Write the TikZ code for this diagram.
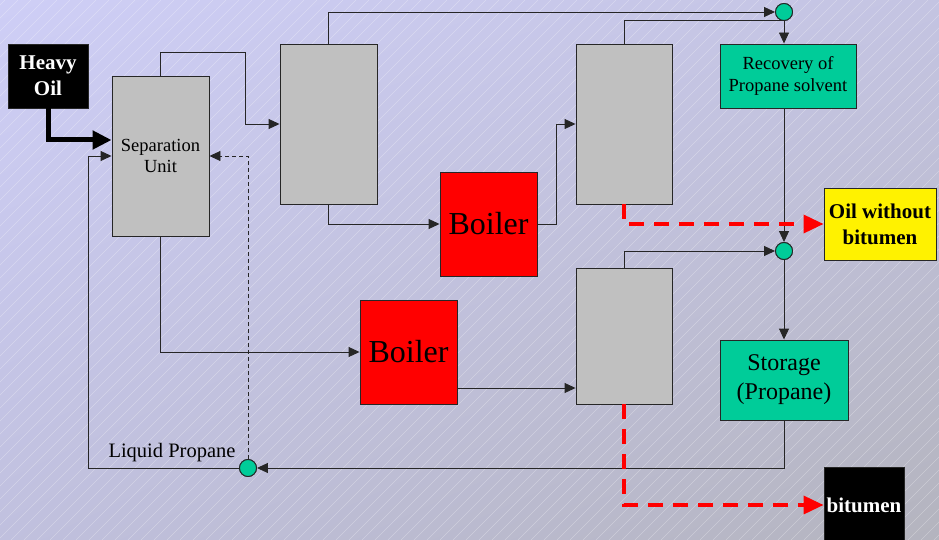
\documentclass[tikz,border=0pt]{standalone}
\usepackage{fontspec}
\setmainfont{Liberation Serif}
\usetikzlibrary{arrows.meta,calc,shadings}
\definecolor{tealbox}{RGB}{0,204,153}
\definecolor{graybox}{RGB}{192,192,192}
\definecolor{bgtl}{RGB}{206,206,246}
\definecolor{bgtr}{RGB}{196,196,226}
\definecolor{bgbl}{RGB}{192,192,222}
\definecolor{bgbr}{RGB}{180,180,190}
\begin{document}
\begin{tikzpicture}[x=1pt,y=-1pt,
  blk/.style={draw=black!85,line width=0.9pt,rectangle,inner sep=0pt,align=center},
  vessel/.style={blk,fill=graybox,minimum width=97pt,minimum height=160pt},
  boilerbox/.style={blk,fill=red,minimum width=97pt,minimum height=104pt,font=\fontsize{32}{36}\selectfont},
  junction/.style={circle,draw=black!85,line width=0.9pt,fill=tealbox,minimum size=17pt,inner sep=0pt},
  arr/.style={draw=black!85,line width=0.9pt,-{Triangle[length=11pt,width=10pt]}},
  plain/.style={draw=black!85,line width=0.9pt},
  thickarr/.style={draw=black,line width=5pt,-{Triangle[length=19pt,width=18pt]}},
  dasharr/.style={draw=black!85,line width=0.9pt,dash pattern=on 4pt off 3pt,-{Triangle[length=11pt,width=10pt]}},
  redarr/.style={draw=red,line width=3.5pt,dash pattern=on 15pt off 10pt,-{Triangle[length=20pt,width=18pt]}},
  boldlabel/.style={font=\bfseries\fontsize{21}{26}\selectfont}
]
\useasboundingbox (0,0) rectangle (939,540);
\shade[upper left=bgtl,upper right=bgtr,lower left=bgbl,lower right=bgbr] (0,0) rectangle (939,540);
\begin{scope}
  \clip (0,0) rectangle (939,540);
  \foreach \i in {-600,-587,...,939}
    \draw[white,opacity=0.3,line width=0.5pt] (\i,540) -- (\i+540,0);
\end{scope}

% nodes
\node[blk,fill=black,text=white,minimum width=80pt,minimum height=64pt,boldlabel] (heavy) at (48,76) {Heavy\\Oil};
\node[vessel,font=\fontsize{18.5}{21}\selectfont] (sep) at (160.5,156) {Separation\\Unit};
\node[vessel] (b2) at (328.5,124) {};
\node[boilerbox] (boil1) at (488.5,224) {Boiler};
\node[vessel,minimum width=96pt] (b3) at (624,124) {};
\node[blk,fill=tealbox,minimum width=136pt,minimum height=64pt,font=\fontsize{18.5}{22}\selectfont] (rec) at (788,76) {\raisebox{-3pt}{Recovery of}\\\raisebox{-3pt}{Propane solvent}};
\node[junction] (c1) at (784,12) {};
\node[junction] (c2) at (784,251) {};
\node[vessel,minimum width=96pt,minimum height=136pt] (b4) at (624,336) {};
\node[blk,fill=tealbox,minimum width=128pt,minimum height=80pt,font=\fontsize{24}{29}\selectfont] (stor) at (784,380) {Storage\\(Propane)};
\node[boilerbox] (boil2) at (408.5,352) {Boiler};
\node[blk,fill=yellow,minimum width=112pt,minimum height=72pt,boldlabel] (oil) at (880,224) {Oil without\\bitumen};
\node[blk,fill=black,text=white,minimum width=80pt,minimum height=76pt,boldlabel] (bit) at (864,505) {bitumen};
\node[junction] (c3) at (248,468) {};
\node[font=\fontsize{20.5}{24}\selectfont] (lp) at (172,453) {Liquid Propane};

% bend coordinates
\coordinate (hb) at (48,140);
\coordinate (lq) at (88,468);
\coordinate (r1) at (245,52);
\coordinate (r2) at (556,124);
\coordinate (j1) at (784,20);
\coordinate (r3) at (0,388);

% connectors
\draw[thickarr] (heavy.south) |- (sep.west |- hb);
\draw[arr] (c3.west) -- (lq) |- (sep.west);
\draw[dasharr] (c3.north) |- (sep.east);
\draw[arr] (sep.north) |- (r1) |- (b2.west);
\draw[arr] (b2.north) |- (c1.west);
\draw[arr] (b2.south) |- (boil1.west);
\draw[arr] (boil1.east) -| (r2) -- (b3.west);
\draw[plain] (b3.north) |- (j1);
\draw[arr] (c1.south) -- (c1 |- rec.north);
\draw[arr] (rec.south -| c2) -- (c2.north);
\draw[arr] (b4.north) |- (c2.west);
\draw[arr] (c2.south) -- (stor.north);
\draw[arr] (stor.south) |- (c3.east);
\draw[arr] (sep.south) |- (boil2.west);
\draw[arr] (boil2.east |- r3) -- (b4.west |- r3);
\draw[redarr] (b3.south) |- (oil.west);
\draw[redarr] (b4.south) |- (bit.west);

% redraw junctions on top
\node[junction] at (c1) {};
\node[junction] at (c2) {};
\node[junction] at (c3) {};
\end{tikzpicture}
\end{document}
